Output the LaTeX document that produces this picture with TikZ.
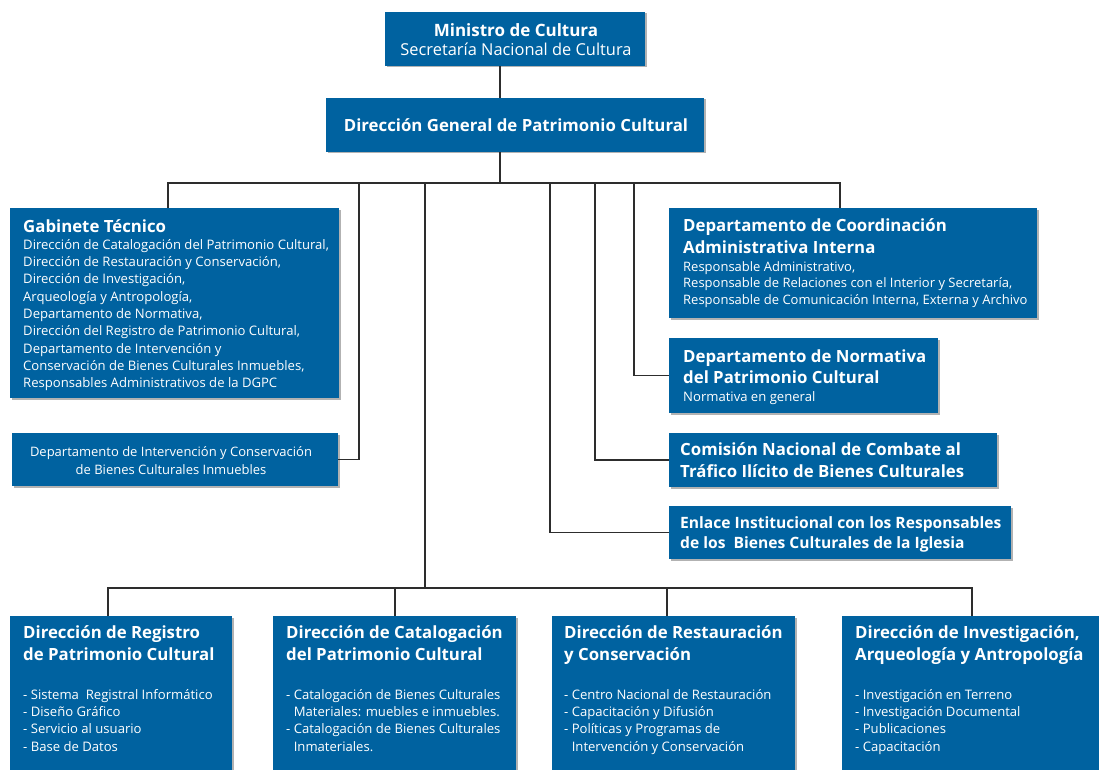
\documentclass[tikz,border=0pt]{standalone}
\usepackage{fontspec}
\setmainfont{Open Sans}
\usetikzlibrary{shadows}
\definecolor{boxblue}{RGB}{0,98,160}
\definecolor{linegray}{RGB}{45,45,45}
\newcommand\mystrutT{\rule{0pt}{14pt}}
\newcommand\mystrutB{\rule{0pt}{11pt}}
\begin{document}
\begin{tikzpicture}[x=1pt,y=-1pt,
  box/.style={fill=boxblue, draw=none, inner sep=0pt, outer sep=0pt, anchor=north west,
    drop shadow={shadow xshift=1.5pt, shadow yshift=-1.5pt, fill=black, opacity=0.3}},
  ttl/.style={text=white, inner sep=0pt, anchor=north west, align=left,
    font=\fontsize{16.8}{22}\bfseries\selectfont},
  bdy/.style={text=white, inner sep=0pt, anchor=north west, align=left,
    font=\fontsize{13.1}{17.3}\selectfont},
  conn/.style={draw=linegray, line width=1.5pt}
]
\fill[white] (0,0) rectangle (1099,770);
\useasboundingbox (0,0) rectangle (1099,770);

% boxes
\node[box, minimum width=260pt, minimum height=54pt] (mini) at (385,12) {};
\node[box, minimum width=378pt, minimum height=54pt] (dgpc) at (326,98) {};
\node[box, minimum width=329pt, minimum height=190pt] (gab) at (10,208) {};
\node[box, minimum width=326pt, minimum height=53pt] (interv) at (12,433) {};
\node[box, minimum width=368pt, minimum height=110pt] (coord) at (669,208) {};
\node[box, minimum width=269pt, minimum height=75pt] (norm) at (669,338) {};
\node[box, minimum width=328pt, minimum height=54pt] (com) at (669,433) {};
\node[box, minimum width=342pt, minimum height=53pt] (enl) at (669,506) {};
\node[box, minimum width=222pt, minimum height=160pt] (reg) at (10,616) {};
\node[box, minimum width=243pt, minimum height=160pt] (cat) at (273,616) {};
\node[box, minimum width=243pt, minimum height=160pt] (rest) at (552,616) {};
\node[box, minimum width=262pt, minimum height=160pt] (inv) at (842,616) {};

% texts
\node[text=white, inner sep=0pt, anchor=base, font=\fontsize{17}{20}\bfseries\selectfont] (miniT) at (516,36.5) {Ministro de Cultura};
\node[text=white, inner sep=0pt, anchor=base, font=\fontsize{16.4}{20}\selectfont] (miniS) at (516,55.5) {Secretaría Nacional de Cultura};
\node[text=white, inner sep=0pt, anchor=base, font=\fontsize{16.8}{22}\bfseries\selectfont] (dgpcT) at (516,131.5) {Dirección General de Patrimonio Cultural};

\node[ttl] (gabT) at (23,218) {\mystrutT Gabinete Técnico};
\node[bdy] (gabB) at (23,238) {\mystrutB Dirección de Catalogación del Patrimonio Cultural,\\
Dirección de Restauración y Conservación,\\
Dirección de Investigación,\\
Arqueología y Antropología,\\
Departamento de Normativa,\\
Dirección del Registro de Patrimonio Cultural,\\
Departamento de Intervención y\\
Conservación de Bienes Culturales Inmuebles,\\
Responsables Administrativos de la DGPC};

\node[text=white, inner sep=0pt, anchor=north, align=center, font=\fontsize{13}{17.5}\selectfont] (intervT) at (171,445.5) {\mystrutB Departamento de Intervención y Conservación\\de Bienes Culturales Inmuebles};

\node[ttl] (coordT) at (683,217) {\mystrutT Departamento de Coordinación\\Administrativa Interna};
\node[bdy, font=\fontsize{13}{16.7}\selectfont] (coordB) at (683,260) {\mystrutB Responsable Administrativo,\\
Responsable de Relaciones con el Interior y Secretaría,\\
Responsable de Comunicación Interna, Externa y Archivo};

\node[ttl, font=\fontsize{16.8}{21}\bfseries\selectfont] (normT) at (683,348) {\mystrutT Departamento de Normativa\\del Patrimonio Cultural};
\node[bdy] (normB) at (683,390) {\mystrutB Normativa en general};

\node[ttl] (comT) at (680,441) {\mystrutT Comisión Nacional de Combate al\\Tráfico Ilícito de Bienes Culturales};
\node[ttl, font=\fontsize{15.6}{20}\bfseries\selectfont] (enlT) at (680,514) {\mystrutT Enlace Institucional con los Responsables\\de los\ \ Bienes Culturales de la Iglesia};

\node[ttl] (regT) at (23,624) {\mystrutT Dirección de Registro\\de Patrimonio Cultural};
\node[bdy] (regB) at (23,688) {\mystrutB - Sistema\ \ Registral Informático\\
- Diseño Gráfico\\
- Servicio al usuario\\
- Base de Datos};

\node[ttl] (catT) at (286,624) {\mystrutT Dirección de Catalogación\\del Patrimonio Cultural};
\node[bdy] (catB) at (286,688) {\mystrutB - Catalogación de Bienes Culturales\\
\phantom{- }Materiales: muebles e inmuebles.\\
- Catalogación de Bienes Culturales\\
\phantom{- }Inmateriales.};

\node[ttl] (restT) at (564,624) {\mystrutT Dirección de Restauración\\y Conservación};
\node[bdy] (restB) at (564,688) {\mystrutB - Centro Nacional de Restauración\\
- Capacitación y Difusión\\
- Políticas y Programas de\\
\phantom{- }Intervención y Conservación};

\node[ttl] (invT) at (855,624) {\mystrutT Dirección de Investigación,\\Arqueología y Antropología};
\node[bdy] (invB) at (855,688) {\mystrutB - Investigación en Terreno\\
- Investigación Documental\\
- Publicaciones\\
- Capacitación};

% connectors
\coordinate (trunk) at (500,183);
\coordinate (busL) at (168,183);
\coordinate (busR) at (840,183);
\coordinate (v1) at (359,183);
\coordinate (v2) at (425,183);
\coordinate (v3) at (550,183);
\coordinate (v4) at (595,183);
\coordinate (v5) at (634,183);
\coordinate (bbus) at (425,588);
\coordinate (bbL) at (108,588);
\coordinate (bbC) at (395,588);
\coordinate (bbS) at (667,588);
\coordinate (bbR) at (972,588);

\draw[conn] (mini.south -| trunk) -- (dgpc.north -| trunk);
\draw[conn] (dgpc.south -| trunk) -- (trunk);
\draw[conn] (gab.north -| busL) -- (busL) -- (busR) -- (coord.north -| busR);
\draw[conn] (v1) |- (interv.east);
\draw[conn] (v2) -- (bbus);
\draw[conn] (v3) |- (enl.west);
\draw[conn] (v4) |- (com.west);
\draw[conn] (v5) |- (norm.west);
\draw[conn] (reg.north -| bbL) -- (bbL) -- (bbR) -- (inv.north -| bbR);
\draw[conn] (bbC) -- (cat.north -| bbC);
\draw[conn] (bbS) -- (rest.north -| bbS);
\end{tikzpicture}
\end{document}
